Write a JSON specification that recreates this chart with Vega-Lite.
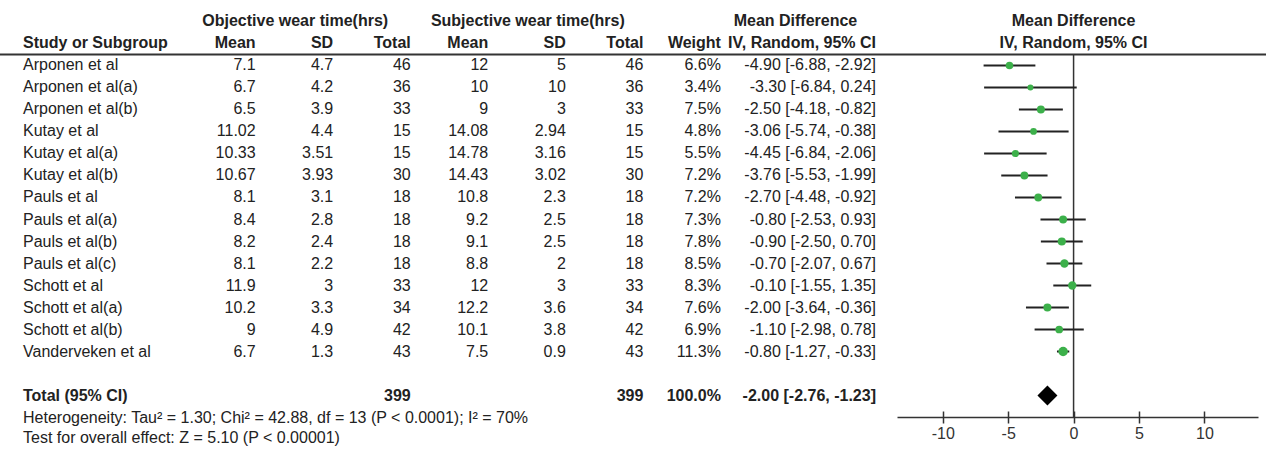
{
  "$schema": "https://vega.github.io/schema/vega-lite/v6.json",
  "width": 1266,
  "height": 417,
  "autosize": {"type": "none"},
  "padding": {"left": 0, "top": 0, "right": 0, "bottom": 33},
  "background": "white",
  "config": {
    "view": {"stroke": null},
    "font": "Liberation Sans",
    "text": {"fontSize": 16, "color": "#222"}
  },
  "datasets": {
    "studies": [
      {"row": "Arponen et al", "om": 7.1, "osd": 4.7, "on": 46, "sm": 12, "ssd": 5, "sn": 46, "w": 0.066, "ci": "-4.90 [-6.88, -2.92]", "md": -4.9, "lo": -6.88, "hi": -2.92},
      {"row": "Arponen et al(a)", "om": 6.7, "osd": 4.2, "on": 36, "sm": 10, "ssd": 10, "sn": 36, "w": 0.034, "ci": "-3.30 [-6.84, 0.24]", "md": -3.3, "lo": -6.84, "hi": 0.24},
      {"row": "Arponen et al(b)", "om": 6.5, "osd": 3.9, "on": 33, "sm": 9, "ssd": 3, "sn": 33, "w": 0.075, "ci": "-2.50 [-4.18, -0.82]", "md": -2.5, "lo": -4.18, "hi": -0.82},
      {"row": "Kutay et al", "om": 11.02, "osd": 4.4, "on": 15, "sm": 14.08, "ssd": 2.94, "sn": 15, "w": 0.048, "ci": "-3.06 [-5.74, -0.38]", "md": -3.06, "lo": -5.74, "hi": -0.38},
      {"row": "Kutay et al(a)", "om": 10.33, "osd": 3.51, "on": 15, "sm": 14.78, "ssd": 3.16, "sn": 15, "w": 0.055, "ci": "-4.45 [-6.84, -2.06]", "md": -4.45, "lo": -6.84, "hi": -2.06},
      {"row": "Kutay et al(b)", "om": 10.67, "osd": 3.93, "on": 30, "sm": 14.43, "ssd": 3.02, "sn": 30, "w": 0.072, "ci": "-3.76 [-5.53, -1.99]", "md": -3.76, "lo": -5.53, "hi": -1.99},
      {"row": "Pauls et al", "om": 8.1, "osd": 3.1, "on": 18, "sm": 10.8, "ssd": 2.3, "sn": 18, "w": 0.072, "ci": "-2.70 [-4.48, -0.92]", "md": -2.7, "lo": -4.48, "hi": -0.92},
      {"row": "Pauls et al(a)", "om": 8.4, "osd": 2.8, "on": 18, "sm": 9.2, "ssd": 2.5, "sn": 18, "w": 0.073, "ci": "-0.80 [-2.53, 0.93]", "md": -0.8, "lo": -2.53, "hi": 0.93},
      {"row": "Pauls et al(b)", "om": 8.2, "osd": 2.4, "on": 18, "sm": 9.1, "ssd": 2.5, "sn": 18, "w": 0.078, "ci": "-0.90 [-2.50, 0.70]", "md": -0.9, "lo": -2.5, "hi": 0.7},
      {"row": "Pauls et al(c)", "om": 8.1, "osd": 2.2, "on": 18, "sm": 8.8, "ssd": 2, "sn": 18, "w": 0.085, "ci": "-0.70 [-2.07, 0.67]", "md": -0.7, "lo": -2.07, "hi": 0.67},
      {"row": "Schott et al", "om": 11.9, "osd": 3, "on": 33, "sm": 12, "ssd": 3, "sn": 33, "w": 0.083, "ci": "-0.10 [-1.55, 1.35]", "md": -0.1, "lo": -1.55, "hi": 1.35},
      {"row": "Schott et al(a)", "om": 10.2, "osd": 3.3, "on": 34, "sm": 12.2, "ssd": 3.6, "sn": 34, "w": 0.076, "ci": "-2.00 [-3.64, -0.36]", "md": -2.0, "lo": -3.64, "hi": -0.36},
      {"row": "Schott et al(b)", "om": 9, "osd": 4.9, "on": 42, "sm": 10.1, "ssd": 3.8, "sn": 42, "w": 0.069, "ci": "-1.10 [-2.98, 0.78]", "md": -1.1, "lo": -2.98, "hi": 0.78},
      {"row": "Vanderveken et al", "om": 6.7, "osd": 1.3, "on": 43, "sm": 7.5, "ssd": 0.9, "sn": 43, "w": 0.113, "ci": "-0.80 [-1.27, -0.33]", "md": -0.8, "lo": -1.27, "hi": -0.33}
    ],
    "total": [
      {"row": "Total (95% CI)", "on": 399, "sn": 399, "w": 1, "ci": "-2.00 [-2.76, -1.23]", "md": -2.0, "lo": -2.76, "hi": -1.23}
    ],
    "headersLeft": [
      {"row": "h2", "key": "row", "val": "Study or Subgroup"}
    ],
    "headersRight": [
      {"row": "h2", "key": "om", "val": "Mean"},
      {"row": "h2", "key": "osd", "val": "SD"},
      {"row": "h2", "key": "on", "val": "Total"},
      {"row": "h2", "key": "sm", "val": "Mean"},
      {"row": "h2", "key": "ssd", "val": "SD"},
      {"row": "h2", "key": "sn", "val": "Total"},
      {"row": "h2", "key": "w", "val": "Weight"},
      {"row": "h2", "key": "ci", "val": "IV, Random, 95% CI"}
    ],
    "groupHeaders": [
      {"row": "h1", "key": "osd", "val": "Objective wear time(hrs)"},
      {"row": "h1", "key": "ssd", "val": "Subjective wear time(hrs)"}
    ],
    "mdHeader": [
      {"row": "h1", "key": "sp3", "val": "Mean Difference"}
    ],
    "plotHeaders": [
      {"row": "h1", "val": "Mean Difference"},
      {"row": "h2", "val": "IV, Random, 95% CI"}
    ],
    "footer": [
      {"row": "Total (95% CI)", "key": "row", "val": "Heterogeneity: Tau² = 1.30; Chi² = 42.88, df = 13 (P < 0.0001); I² = 70%\nTest for overall effect: Z = 5.10 (P < 0.00001)"}
    ]
  },
  "encoding": {
    "y": {
      "field": "row",
      "type": "nominal",
      "axis": null,
      "scale": {
        "type": "point",
        "padding": 0.977,
        "domain": ["h1", "h2", "Arponen et al", "Arponen et al(a)", "Arponen et al(b)", "Kutay et al", "Kutay et al(a)", "Kutay et al(b)", "Pauls et al", "Pauls et al(a)", "Pauls et al(b)", "Pauls et al(c)", "Schott et al", "Schott et al(a)", "Schott et al(b)", "Vanderveken et al", "gap", "Total (95% CI)"]
      }
    }
  },
  "layer": [
    {
      "data": {"name": "total"},
      "mark": {"type": "rule", "color": "#333", "strokeWidth": 1.5, "yOffset": 11},
      "encoding": {
        "x": {
          "datum": 0, "type": "quantitative",
          "scale": {"type": "linear", "domain": [-13.5, 14.1], "range": [897, 1258], "nice": false, "zero": false},
          "axis": {"orient": "bottom", "values": [-10, -5, 0, 5, 10], "labelExpr": "'' + datum.value", "title": null, "grid": false, "domainColor": "#333", "domainWidth": 1.5, "tickColor": "#333", "tickWidth": 1.5, "tickSize": 6, "labelFontSize": 16, "labelColor": "#333", "labelFont": "Liberation Sans", "labelPadding": 2}
        },
        "y": {"datum": "h2", "type": "nominal"},
        "y2": {"value": "height"}
      }
    },
    {
      "data": {"name": "studies"},
      "mark": {"type": "rule", "color": "#222", "strokeWidth": 2},
      "encoding": {
        "x": {
          "field": "lo", "type": "quantitative",
          "scale": {"type": "linear", "domain": [-13.5, 14.1], "range": [897, 1258], "nice": false, "zero": false},
          "axis": {"orient": "bottom", "values": [-10, -5, 0, 5, 10], "labels": false, "domain": false, "title": null, "grid": false, "tickColor": "#333", "tickWidth": 1.5, "tickSize": -6}
        },
        "x2": {"field": "hi"}
      }
    },
    {
      "data": {"name": "studies"},
      "mark": {"type": "point", "shape": "circle", "filled": true, "color": "#3cb04a", "opacity": 1},
      "encoding": {
        "x": {"field": "md", "type": "quantitative", "axis": null, "scale": {"type": "linear", "domain": [-13.5, 14.1], "range": [897, 1258], "nice": false, "zero": false}},
        "size": {"field": "w", "type": "quantitative", "legend": null, "scale": {"zero": false, "range": [36, 90]}}
      }
    },
    {
      "data": {"name": "total"},
      "mark": {"type": "point", "shape": "diamond", "filled": true, "color": "#000", "size": 400, "opacity": 1},
      "encoding": {
        "x": {"field": "md", "type": "quantitative", "axis": null, "scale": {"type": "linear", "domain": [-13.5, 14.1], "range": [897, 1258], "nice": false, "zero": false}}
      }
    },
    {
      "data": {"name": "plotHeaders"},
      "mark": {"type": "text", "align": "center", "fontWeight": "bold"},
      "encoding": {
        "x": {"datum": 0, "type": "quantitative", "axis": null, "scale": {"type": "linear", "domain": [-13.5, 14.1], "range": [897, 1258], "nice": false, "zero": false}},
        "text": {"field": "val", "type": "nominal"}
      }
    },
    {
      "data": {"name": "total"},
      "mark": {"type": "rule", "color": "#333", "strokeWidth": 2, "yOffset": 11},
      "encoding": {
        "y": {"datum": "h2", "type": "nominal"}
      }
    },
    {
      "data": {"name": "studies"},
      "transform": [{"fold": ["row"], "as": ["key", "val"]}],
      "mark": {"type": "text", "align": "left"},
      "encoding": {
        "x": {"field": "key", "type": "nominal", "axis": null, "scale": {"type": "point", "domain": ["row", "sp1", "sp2", "om", "osd", "on", "sm", "ssd", "sn", "w", "sp3", "ci"], "range": [23, 876], "padding": 0}},
        "text": {"field": "val", "type": "nominal"}
      }
    },
    {
      "data": {"name": "studies"},
      "transform": [{"fold": ["om", "osd", "on", "sm", "ssd", "sn"], "as": ["key", "val"]}],
      "mark": {"type": "text", "align": "right"},
      "encoding": {
        "x": {"field": "key", "type": "nominal", "axis": null, "scale": {"type": "point", "domain": ["row", "sp1", "sp2", "om", "osd", "on", "sm", "ssd", "sn", "w", "sp3", "ci"], "range": [23, 876], "padding": 0}},
        "text": {"field": "val", "type": "nominal"}
      }
    },
    {
      "data": {"name": "studies"},
      "transform": [{"fold": ["w"], "as": ["key", "val"]}],
      "mark": {"type": "text", "align": "right"},
      "encoding": {
        "x": {"field": "key", "type": "nominal", "axis": null, "scale": {"type": "point", "domain": ["row", "sp1", "sp2", "om", "osd", "on", "sm", "ssd", "sn", "w", "sp3", "ci"], "range": [23, 876], "padding": 0}},
        "text": {"field": "val", "type": "quantitative", "format": ".1%"}
      }
    },
    {
      "data": {"name": "studies"},
      "transform": [{"fold": ["ci"], "as": ["key", "val"]}],
      "mark": {"type": "text", "align": "right"},
      "encoding": {
        "x": {"field": "key", "type": "nominal", "axis": null, "scale": {"type": "point", "domain": ["row", "sp1", "sp2", "om", "osd", "on", "sm", "ssd", "sn", "w", "sp3", "ci"], "range": [23, 876], "padding": 0}},
        "text": {"field": "val", "type": "nominal"}
      }
    },
    {
      "data": {"name": "total"},
      "transform": [{"fold": ["row"], "as": ["key", "val"]}],
      "mark": {"type": "text", "align": "left", "fontWeight": "bold"},
      "encoding": {
        "x": {"field": "key", "type": "nominal", "axis": null, "scale": {"type": "point", "domain": ["row", "sp1", "sp2", "om", "osd", "on", "sm", "ssd", "sn", "w", "sp3", "ci"], "range": [23, 876], "padding": 0}},
        "text": {"field": "val", "type": "nominal"}
      }
    },
    {
      "data": {"name": "total"},
      "transform": [{"fold": ["on", "sn"], "as": ["key", "val"]}],
      "mark": {"type": "text", "align": "right", "fontWeight": "bold"},
      "encoding": {
        "x": {"field": "key", "type": "nominal", "axis": null, "scale": {"type": "point", "domain": ["row", "sp1", "sp2", "om", "osd", "on", "sm", "ssd", "sn", "w", "sp3", "ci"], "range": [23, 876], "padding": 0}},
        "text": {"field": "val", "type": "nominal"}
      }
    },
    {
      "data": {"name": "total"},
      "transform": [{"fold": ["w"], "as": ["key", "val"]}],
      "mark": {"type": "text", "align": "right", "fontWeight": "bold"},
      "encoding": {
        "x": {"field": "key", "type": "nominal", "axis": null, "scale": {"type": "point", "domain": ["row", "sp1", "sp2", "om", "osd", "on", "sm", "ssd", "sn", "w", "sp3", "ci"], "range": [23, 876], "padding": 0}},
        "text": {"field": "val", "type": "quantitative", "format": ".1%"}
      }
    },
    {
      "data": {"name": "total"},
      "transform": [{"fold": ["ci"], "as": ["key", "val"]}],
      "mark": {"type": "text", "align": "right", "fontWeight": "bold"},
      "encoding": {
        "x": {"field": "key", "type": "nominal", "axis": null, "scale": {"type": "point", "domain": ["row", "sp1", "sp2", "om", "osd", "on", "sm", "ssd", "sn", "w", "sp3", "ci"], "range": [23, 876], "padding": 0}},
        "text": {"field": "val", "type": "nominal"}
      }
    },
    {
      "data": {"name": "headersLeft"},
      "mark": {"type": "text", "align": "left", "fontWeight": "bold"},
      "encoding": {
        "x": {"field": "key", "type": "nominal", "axis": null, "scale": {"type": "point", "domain": ["row", "sp1", "sp2", "om", "osd", "on", "sm", "ssd", "sn", "w", "sp3", "ci"], "range": [23, 876], "padding": 0}},
        "text": {"field": "val", "type": "nominal"}
      }
    },
    {
      "data": {"name": "headersRight"},
      "mark": {"type": "text", "align": "right", "fontWeight": "bold"},
      "encoding": {
        "x": {"field": "key", "type": "nominal", "axis": null, "scale": {"type": "point", "domain": ["row", "sp1", "sp2", "om", "osd", "on", "sm", "ssd", "sn", "w", "sp3", "ci"], "range": [23, 876], "padding": 0}},
        "text": {"field": "val", "type": "nominal"}
      }
    },
    {
      "data": {"name": "groupHeaders"},
      "mark": {"type": "text", "align": "center", "fontWeight": "bold", "dx": -38},
      "encoding": {
        "x": {"field": "key", "type": "nominal", "axis": null, "scale": {"type": "point", "domain": ["row", "sp1", "sp2", "om", "osd", "on", "sm", "ssd", "sn", "w", "sp3", "ci"], "range": [23, 876], "padding": 0}},
        "text": {"field": "val", "type": "nominal"}
      }
    },
    {
      "data": {"name": "mdHeader"},
      "mark": {"type": "text", "align": "center", "fontWeight": "bold", "dx": -3},
      "encoding": {
        "x": {"field": "key", "type": "nominal", "axis": null, "scale": {"type": "point", "domain": ["row", "sp1", "sp2", "om", "osd", "on", "sm", "ssd", "sn", "w", "sp3", "ci"], "range": [23, 876], "padding": 0}},
        "text": {"field": "val", "type": "nominal"}
      }
    },
    {
      "data": {"name": "footer"},
      "mark": {"type": "text", "align": "left", "baseline": "top", "dy": 14, "lineBreak": "\n", "lineHeight": 20},
      "encoding": {
        "x": {"field": "key", "type": "nominal", "axis": null, "scale": {"type": "point", "domain": ["row", "sp1", "sp2", "om", "osd", "on", "sm", "ssd", "sn", "w", "sp3", "ci"], "range": [23, 876], "padding": 0}},
        "text": {"field": "val", "type": "nominal"}
      }
    }
  ],
  "resolve": {"scale": {"x": "independent"}}
}
